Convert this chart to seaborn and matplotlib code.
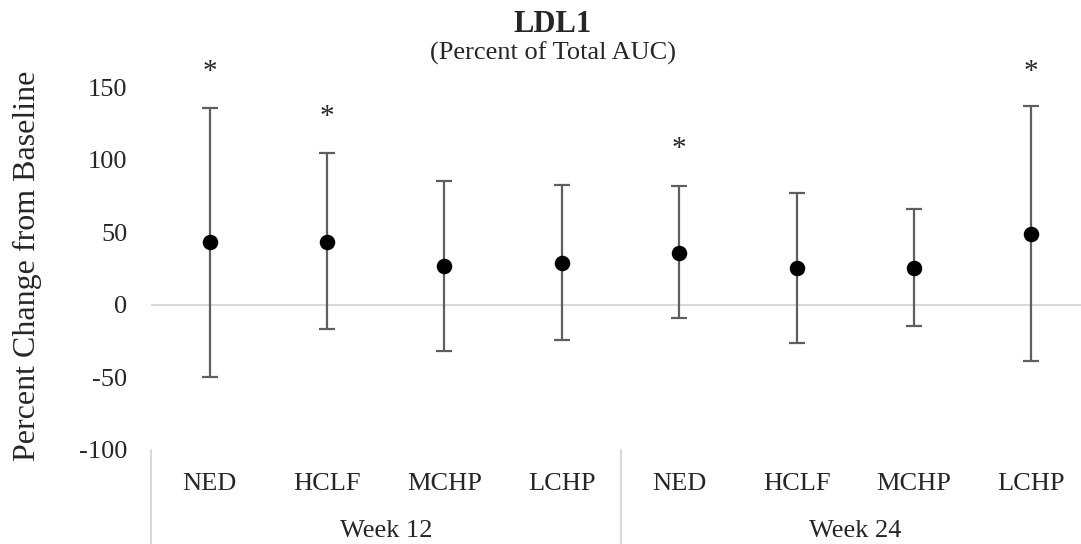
import numpy as np
import pandas as pd
import matplotlib
matplotlib.use("Agg")
import matplotlib.pyplot as plt
import seaborn as sns

# ---- data ----
groups = ["NED", "HCLF", "MCHP", "LCHP", "NED", "HCLF", "MCHP", "LCHP"]
weeks = ["Week 12", "Week 24"]
means = [43, 43.5, 27, 29, 36, 25.3, 25.5, 48.7]
upper = [135.8, 104.3, 85.5, 82.8, 81.5, 77.3, 65.8, 137.0]
lower = [-50.0, -17.0, -31.7, -24.0, -9.2, -26.6, -14.7, -39.0]
significant = [True, True, False, False, True, False, False, True]
star_values = [160.5, 129, None, None, 107.6, None, None, 160.5]
yticks = [-100, -50, 0, 50, 100, 150]

sns.set_theme(style="white")
plt.rcParams["font.family"] = ["Liberation Serif", "DejaVu Serif"]

df = pd.DataFrame({
    "pos": np.arange(len(groups)),
    "group": groups,
    "mean": means,
    "upper": upper,
    "lower": lower,
})

W, H = 1081, 544
fig = plt.figure(figsize=(W / 100, H / 100), dpi=100)
ax_left, ax_right, ax_top, ax_bot = 151, 1090, 87, 450
ax = fig.add_axes([ax_left / W, 1 - ax_bot / H, (ax_right - ax_left) / W, (ax_bot - ax_top) / H])

# zero line
ax.axhline(0, color="#d9d9d9", lw=1.5, zorder=0)

# error bars
err_low = df["mean"] - df["lower"]
err_up = df["upper"] - df["mean"]
ax.errorbar(df["pos"], df["mean"], yerr=[err_low, err_up], fmt="none",
            ecolor="#5f5f5f", elinewidth=1.6, capsize=6, capthick=1.6, zorder=2)

sns.scatterplot(data=df, x="pos", y="mean", ax=ax, color="black", s=125,
                edgecolor="black", linewidth=0, zorder=3, legend=False)

# significance stars
for i, (sig, sv) in enumerate(zip(significant, star_values)):
    if sig:
        ax.text(i, sv, "*", ha="center", va="center", fontsize=21, clip_on=False)

ax.set_xlim(-0.5, len(groups) - 0.5)
ax.set_ylim(-100, 150)
ax.set_yticks(yticks)
ax.set_yticklabels([str(t) for t in yticks], fontsize=19)
ax.tick_params(axis="y", length=0, pad=17)
ax.set_xticks([])
for s in ax.spines.values():
    s.set_visible(False)
ax.set_xlabel("")
ax.set_ylabel("Percent Change from Baseline", fontsize=23)
ax.yaxis.set_label_coords(-0.116, 0.507)

# category labels and group labels
trans = ax.get_xaxis_transform()
axh = ax_bot - ax_top
for i, g in enumerate(groups):
    ax.text(i, -40 / axh, g, ha="center", va="baseline", fontsize=19, transform=trans, clip_on=False)
for k, wk in enumerate(weeks):
    ax.text(4 * k + 1.5, -87 / axh, wk, ha="center", va="baseline", fontsize=19, transform=trans, clip_on=False)

# separator lines below axis
for xs in [-0.5, 3.5, 7.5]:
    ax.plot([xs, xs], [0, -94 / axh], transform=trans, color="#d9d9d9", lw=1.5, clip_on=False)

fig.text(553 / W, 1 - 32 / H, "LDL1", ha="center", va="baseline", fontsize=22, fontweight="bold")
fig.text(553 / W, 1 - 60 / H, "(Percent of Total AUC)", ha="center", va="baseline", fontsize=19)

fig.savefig("out.png", dpi=100, facecolor="white")
